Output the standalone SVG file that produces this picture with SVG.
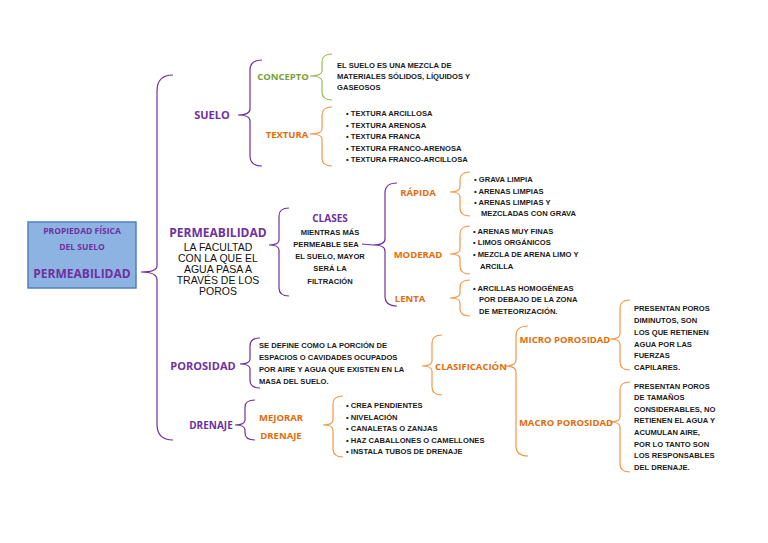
<svg xmlns="http://www.w3.org/2000/svg" width="768" height="543" viewBox="0 0 768 543">
<style>
.b{fill:none;stroke-width:1.2}
.p{stroke:#7030a0}.o{stroke:#f79646}.g{stroke:#9bbb59}
.t{font-family:"Liberation Sans",Arial,sans-serif;font-weight:bold;font-size:7.6px;fill:#1a1a1a}
.h{font-family:"Open Sans","Liberation Sans",sans-serif;font-weight:bold;text-anchor:middle}
.hp{fill:#7030a0;font-size:11px}.ho{fill:#e36c09;font-size:9.5px}.hg{fill:#77a03a;font-size:9.5px}
.n{font-family:"Liberation Sans",Arial,sans-serif;font-size:10.5px;fill:#111;text-anchor:middle}
</style>
<rect width="768" height="543" fill="#fff"/>
<g id="connectors">
<path class="b p" d="M173,75 Q157,75 157,91 L157,266 Q157,272 141,272 Q157,272 157,280 L157,424 Q157,440 173,440"/>
<path class="b p" d="M262,60 Q250,60 250,70 L250,109 Q250,115 238,115 Q250,115 250,121 L250,156 Q250,166 262,166"/>
<path class="b g" d="M332,54 Q322,54 322,62 L322,71 Q322,76 310,76 Q322,76 322,81 L322,92 Q322,100 332,100"/>
<path class="b o" d="M332,107 Q322,107 322,115 L322,129 Q322,134 310,134 Q322,134 322,139 L322,158 Q322,166 332,166"/>
<path class="b p" d="M289,208 Q279,208 279,216 L279,240 Q279,245 269,245 Q279,245 279,250 L279,288 Q279,296 289,296"/>
<path class="b p" d="M397,183 Q385,183 385,193 L385,239 Q385,245 373,245 Q385,245 385,251 L385,296 Q385,306 397,306"/>
<line class="b p" x1="362" y1="244" x2="373" y2="245"/>
<path class="b o" d="M470,172 Q460,172 460,180 L460,187 Q460,192 450,192 Q460,192 460,197 L460,208 Q460,216 470,216"/>
<path class="b o" d="M470,226 Q460,226 460,234 L460,249 Q460,254 450,254 Q460,254 460,259 L460,266 Q460,274 470,274"/>
<path class="b o" d="M470,280 Q460,280 460,287 L460,293 Q460,298 450,298 Q460,298 460,303 L460,309 Q460,316 470,316"/>
<path class="b p" d="M260,338 Q250,338 250,346 L250,359 Q250,364 240,364 Q250,364 250,369 L250,380 Q250,388 260,388"/>
<path class="b o" d="M442,335 Q432,335 432,343 L432,361 Q432,366 422,366 Q432,366 432,371 L432,387 Q432,395 442,395"/>
<path class="b o" d="M528,326 Q516,326 516,336 L516,360 Q516,366 504,366 Q516,366 516,372 L516,446 Q516,456 528,456"/>
<path class="b o" d="M630,300 Q620,300 620,308 L620,334 Q620,339 610,339 Q620,339 620,344 L620,362 Q620,370 630,370"/>
<path class="b o" d="M630,382 Q620,382 620,390 L620,417 Q620,422 610,422 Q620,422 620,427 L620,464 Q620,472 630,472"/>
<path class="b p" d="M255,400 Q245,400 245,407 L245,420 Q245,425 235,425 Q245,425 245,430 L245,433 Q245,440 255,440"/>
<path class="b o" d="M343,396 Q333,396 333,404 L333,420 Q333,425 323,425 Q333,425 333,430 L333,449 Q333,457 343,457"/>
</g>
<g id="root">
<rect x="28" y="222" width="108" height="66" fill="#8db3e2" stroke="#4f81bd" stroke-width="1.5"/>
<text class="h hp" x="82" y="234" style="font-size:8.5px">PROPIEDAD FÍSICA</text>
<text class="h hp" x="82" y="250" style="font-size:8.5px">DEL SUELO</text>
<text class="h hp" x="82" y="278" style="font-size:12px">PERMEABILIDAD</text>
</g>
<g id="suelo"><text class="h hp" x="212" y="119">SUELO</text></g>
<g id="concepto"><text class="h hg" x="283" y="80">CONCEPTO</text>
<text class="t" x="337" y="68">EL SUELO ES UNA MEZCLA DE</text>
<text class="t" x="337" y="79">MATERIALES SÓLIDOS, LÍQUIDOS  Y</text>
<text class="t" x="337" y="90">GASEOSOS</text></g>
<g id="textura"><text class="h ho" x="287" y="138">TEXTURA</text>
<text class="t" x="346" y="116">• TEXTURA ARCILLOSA</text>
<text class="t" x="346" y="128">• TEXTURA ARENOSA</text>
<text class="t" x="346" y="139">• TEXTURA FRANCA</text>
<text class="t" x="346" y="151">• TEXTURA FRANCO-ARENOSA</text>
<text class="t" x="346" y="162">• TEXTURA FRANCO-ARCILLOSA</text></g>
<g id="permeabilidad"><text class="h hp" x="218" y="237" style="font-size:12px">PERMEABILIDAD</text>
<text class="n" x="218" y="251">LA FACULTAD</text>
<text class="n" x="218" y="262">CON LA QUE EL</text>
<text class="n" x="218" y="273">AGUA PASA A</text>
<text class="n" x="218" y="284">TRAVÉS DE LOS</text>
<text class="n" x="218" y="295">POROS</text></g>
<g id="clases"><text class="h hp" x="330" y="222" style="font-size:10px">CLASES</text>
<text class="t" x="330" y="235" text-anchor="middle">MIENTRAS MÁS</text>
<text class="t" x="326" y="247" text-anchor="middle">PERMEABLE SEA</text>
<text class="t" x="330" y="259" text-anchor="middle">EL SUELO, MAYOR</text>
<text class="t" x="330" y="271" text-anchor="middle">SERÁ LA</text>
<text class="t" x="330" y="284" text-anchor="middle">FILTRACIÓN</text></g>
<g id="rapida"><text class="h ho" x="418" y="196">RÁPIDA</text>
<text class="t" x="474" y="182">• GRAVA LIMPIA</text>
<text class="t" x="474" y="194">• ARENAS LIMPIAS</text>
<text class="t" x="474" y="205">• ARENAS LIMPIAS Y</text>
<text class="t" x="481" y="216">MEZCLADAS CON GRAVA</text></g>
<g id="moderad"><text class="h ho" x="418" y="258">MODERAD</text>
<text class="t" x="473" y="234">• ARENAS MUY FINAS</text>
<text class="t" x="473" y="245">• LIMOS ORGÁNICOS</text>
<text class="t" x="473" y="257">• MEZCLA DE ARENA LIMO Y</text>
<text class="t" x="480" y="269">ARCILLA</text></g>
<g id="lenta"><text class="h ho" x="410" y="302">LENTA</text>
<text class="t" x="473" y="291">• ARCILLAS HOMOGÉNEAS</text>
<text class="t" x="479" y="302">POR DEBAJO DE LA ZONA</text>
<text class="t" x="479" y="314">DE METEORIZACIÓN.</text></g>
<g id="porosidad"><text class="h hp" x="203" y="370">POROSIDAD</text>
<text class="t" x="259" y="348">SE DEFINE COMO LA PORCIÓN DE</text>
<text class="t" x="259" y="360">ESPACIOS O CAVIDADES OCUPADOS</text>
<text class="t" x="259" y="372">POR AIRE Y AGUA  QUE EXISTEN EN LA</text>
<text class="t" x="259" y="384">MASA DEL SUELO.</text></g>
<g id="clasificacion"><text class="h ho" x="471" y="370">CLASIFICACIÓN</text></g>
<g id="micro"><text class="h ho" x="565" y="343">MICRO POROSIDAD</text>
<text class="t" x="634" y="311">PRESENTAN POROS</text>
<text class="t" x="634" y="323">DIMINUTOS, SON</text>
<text class="t" x="634" y="335">LOS QUE RETIENEN</text>
<text class="t" x="634" y="347">AGUA POR LAS</text>
<text class="t" x="634" y="358">FUERZAS</text>
<text class="t" x="634" y="370">CAPILARES.</text></g>
<g id="macro"><text class="h ho" x="566" y="426">MACRO POROSIDAD</text>
<text class="t" x="634" y="389">PRESENTAN POROS</text>
<text class="t" x="634" y="400">DE TAMAÑOS</text>
<text class="t" x="634" y="412">CONSIDERABLES, NO</text>
<text class="t" x="634" y="423">RETIENEN EL AGUA Y</text>
<text class="t" x="634" y="435">ACUMULAN AIRE,</text>
<text class="t" x="634" y="447">POR LO TANTO SON</text>
<text class="t" x="634" y="458">LOS RESPONSABLES</text>
<text class="t" x="634" y="459" dy="11">DEL DRENAJE.</text></g>
<g id="drenaje"><text class="h hp" x="211" y="429" style="font-size:10px">DRENAJE</text></g>
<g id="mejorar"><text class="h ho" x="281" y="421">MEJORAR</text>
<text class="h ho" x="281" y="439">DRENAJE</text>
<text class="t" x="346" y="408">• CREA PENDIENTES</text>
<text class="t" x="346" y="420">• NIVELACIÓN</text>
<text class="t" x="346" y="431">• CANALETAS O ZANJAS</text>
<text class="t" x="346" y="443">• HAZ CABALLONES O CAMELLONES</text>
<text class="t" x="346" y="454">• INSTALA TUBOS DE DRENAJE</text></g>
</svg>
